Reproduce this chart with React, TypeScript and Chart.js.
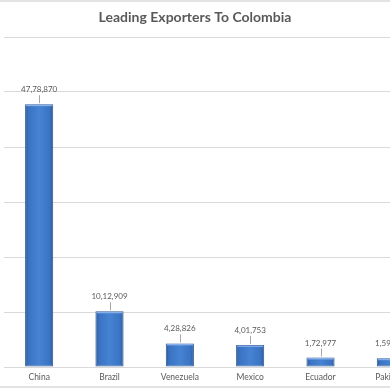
import React, { useEffect, useRef } from "react";
import { Chart, registerables } from "chart.js";

Chart.register(...registerables);

const TITLE = "Leading Exporters To Colombia";
const countries = ["China", "Brazil", "Venezuela", "Mexico", "Ecuador", "Pakistan"];
const exportValues = [4778870, 1012909, 428826, 401753, 172977, 159512];
const yMax = 6000000;
const yStep = 1000000;

function formatIndian(n: number): string {
  const s = Math.round(n).toString();
  if (s.length <= 3) return s;
  const last3 = s.slice(-3);
  let rest = s.slice(0, -3);
  const parts: string[] = [];
  while (rest.length > 2) {
    parts.unshift(rest.slice(-2));
    rest = rest.slice(0, -2);
  }
  if (rest.length) parts.unshift(rest);
  return parts.join(",") + "," + last3;
}

const FONT = "Lato, 'Liberation Sans', sans-serif";

const decorPlugin = {
  id: "decor",
  beforeDraw(chart: any) {
    const c = chart.ctx;
    c.save();
    c.fillStyle = "#ffffff";
    c.fillRect(0, 0, chart.width, chart.height);
    c.fillStyle = "#e3e3e3";
    c.fillRect(0, 0, chart.width, 2);
    c.fillRect(0, 386, chart.width, 2);
    c.fillStyle = "#595959";
    c.font = `bold 14px ${FONT}`;
    c.textAlign = "center";
    c.textBaseline = "middle";
    c.fillText(TITLE, 195, 17);
    c.restore();
  },
  afterDatasetsDraw(chart: any) {
    const c = chart.ctx;
    const meta = chart.getDatasetMeta(0);
    c.save();
    meta.data.forEach((bar: any, i: number) => {
      const half = bar.width / 2;
      c.fillStyle = "rgba(140,180,235,0.9)";
      c.fillRect(bar.x - half + 1, bar.y + 0.5, bar.width - 2, 1.5);
      c.strokeStyle = "#a6a6a6";
      c.lineWidth = 1;
      c.beginPath();
      c.moveTo(Math.round(bar.x) + 0.5, bar.y - 9);
      c.lineTo(Math.round(bar.x) + 0.5, bar.y - 1);
      c.stroke();
      c.fillStyle = "#595959";
      c.font = `8px ${FONT}`;
      c.textAlign = "center";
      c.textBaseline = "middle";
      c.fillText(formatIndian(exportValues[i]), bar.x, bar.y - 14.5);
    });
    c.restore();
  },
};

export default function App() {
  const ref = useRef<HTMLCanvasElement | null>(null);
  useEffect(() => {
    if (!ref.current) return;
    const chart = new Chart(ref.current, {
      type: "bar",
      data: {
        labels: countries,
        datasets: [
          {
            data: exportValues,
            backgroundColor: (ctx: any) => {
              const chart = ctx.chart;
              const xs = chart.scales && chart.scales.x;
              if (!xs || !chart.chartArea) return "#3e78c6";
              const x = xs.getPixelForValue(ctx.dataIndex);
              const half = 14;
              const g = chart.ctx.createLinearGradient(x - half, 0, x + half, 0);
              g.addColorStop(0, "#2b5896");
              g.addColorStop(0.12, "#3a73c2");
              g.addColorStop(0.5, "#4683d3");
              g.addColorStop(0.88, "#3a73c2");
              g.addColorStop(1, "#2b5896");
              return g;
            },
            borderColor: "#2a548e",
            borderWidth: 1,
            borderSkipped: false,
            categoryPercentage: 1,
            barPercentage: 0.4,
          },
        ],
      },
      options: {
        responsive: false,
        animation: false,
        layout: { padding: { left: 4, right: 4, top: 37, bottom: 0 } },
        plugins: {
          legend: { display: false },
          title: { display: false },
          tooltip: { enabled: false },
        },
        scales: {
          x: {
            grid: { display: false, drawTicks: false },
            border: { display: true, color: "#d9d9d9" },
            ticks: { color: "#595959", font: { family: FONT, size: 8.5 }, padding: 5, maxRotation: 0, autoSkip: false },
            afterFit: (s: any) => {
              s.height = 23;
            },
          },
          y: {
            min: 0,
            max: yMax,
            ticks: { display: false, stepSize: yStep },
            grid: { color: "#d9d9d9", drawTicks: false },
            border: { display: false },
            afterFit: (s: any) => {
              s.width = 0;
            },
          },
        },
      },
      plugins: [decorPlugin],
    });
    return () => chart.destroy();
  }, []);
  return (
    <div style={{ position: "fixed", left: 0, top: 0, width: 390, height: 390, overflow: "hidden", background: "#fff" }}>
      <canvas ref={ref} width={430} height={390} style={{ display: "block" }} />
    </div>
  );
}
